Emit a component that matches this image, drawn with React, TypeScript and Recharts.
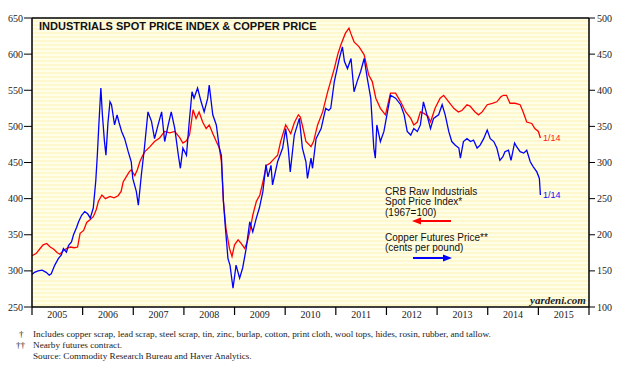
import React from 'react'
import {
  LineChart,
  Line,
  XAxis,
  YAxis,
  CartesianGrid,
  ReferenceLine,
} from 'recharts'

// CRB Raw Industrials spot price index (left axis), fractional years
const crbDates = [
  2005.0, 2005.08, 2005.16, 2005.22, 2005.29, 2005.36, 2005.43, 2005.5, 2005.55, 2005.62,
  2005.68, 2005.76, 2005.83, 2005.9, 2005.95, 2006.02, 2006.08, 2006.15, 2006.21, 2006.27,
  2006.31, 2006.38, 2006.45, 2006.54, 2006.62, 2006.7, 2006.76, 2006.8, 2006.86, 2006.92,
  2006.96, 2007.03, 2007.08, 2007.13, 2007.18, 2007.23, 2007.33, 2007.42, 2007.52, 2007.62,
  2007.72, 2007.82, 2007.92, 2007.98, 2008.05, 2008.11, 2008.14, 2008.18, 2008.24, 2008.3,
  2008.37, 2008.44, 2008.5, 2008.57, 2008.64, 2008.7, 2008.74, 2008.78, 2008.83, 2008.9,
  2008.95, 2009.0, 2009.07, 2009.13, 2009.2, 2009.25, 2009.3, 2009.36, 2009.43, 2009.5,
  2009.56, 2009.63, 2009.7, 2009.78, 2009.85, 2009.91, 2010.01, 2010.06, 2010.11, 2010.18,
  2010.26, 2010.3, 2010.36, 2010.41, 2010.51, 2010.56, 2010.64, 2010.74, 2010.84, 2010.97,
  2011.04, 2011.1, 2011.19, 2011.26, 2011.3, 2011.36, 2011.46, 2011.56, 2011.65, 2011.72,
  2011.79, 2011.88, 2011.98, 2012.08, 2012.18, 2012.28, 2012.38, 2012.48, 2012.54, 2012.61,
  2012.67, 2012.74, 2012.82, 2012.87, 2012.96, 2013.06, 2013.13, 2013.23, 2013.33, 2013.42,
  2013.49, 2013.59, 2013.65, 2013.75, 2013.82, 2013.89, 2013.99, 2014.09, 2014.18, 2014.26,
  2014.31, 2014.37, 2014.44, 2014.54, 2014.64, 2014.7, 2014.77, 2014.87, 2014.93, 2015.0,
  2015.04,
]
const crbValues = [
  321, 324, 331, 336, 338, 333, 330, 325, 323, 328,
  331, 333, 332, 333, 352, 356, 367, 371, 375, 385,
  396, 405, 400, 403, 401, 404, 410, 423, 430, 437,
  440, 432, 440, 451, 459, 465, 472, 479, 484, 493,
  491, 493, 484, 477, 480, 488, 502, 523, 511, 520,
  506, 497, 502, 490, 479, 470, 451, 396, 359, 331,
  320, 336, 343, 338, 331, 340, 354, 377, 396, 405,
  423, 446, 449, 455, 460, 479, 502, 496, 490, 505,
  516, 513, 495, 479, 472, 479, 502, 520, 548, 580,
  600, 613, 629, 636, 628, 617, 610, 599, 571, 562,
  539, 525, 516, 546, 546, 534, 520, 511, 502, 506,
  520, 518, 514, 506, 525, 539, 543, 534, 525, 520,
  522, 530, 528, 520, 516, 520, 530, 532, 534, 541,
  543, 543, 532, 532, 530, 520, 506, 504, 497, 493,
  484,
]

// Copper futures price, cents per pound (right axis)
const copperDates = [
  2005.0, 2005.05, 2005.12, 2005.2, 2005.28, 2005.34, 2005.38, 2005.45, 2005.52, 2005.58,
  2005.62, 2005.68, 2005.72, 2005.78, 2005.82, 2005.88, 2005.92, 2005.98, 2006.04, 2006.1,
  2006.15, 2006.21, 2006.26, 2006.29, 2006.32, 2006.36, 2006.39, 2006.43, 2006.46, 2006.5,
  2006.54, 2006.57, 2006.63, 2006.68, 2006.72, 2006.77, 2006.83, 2006.9, 2006.96, 2006.99,
  2007.06, 2007.1, 2007.16, 2007.22, 2007.29, 2007.36, 2007.42, 2007.49, 2007.56, 2007.62,
  2007.69, 2007.75, 2007.82, 2007.89, 2007.93, 2007.98, 2008.05, 2008.1, 2008.16, 2008.2,
  2008.27, 2008.34, 2008.4, 2008.47, 2008.5, 2008.57, 2008.64, 2008.7, 2008.74, 2008.78,
  2008.82, 2008.87, 2008.91, 2008.97, 2009.03, 2009.1, 2009.16, 2009.23, 2009.3, 2009.36,
  2009.43, 2009.49, 2009.56, 2009.62, 2009.66, 2009.72, 2009.75, 2009.85, 2009.95, 2010.01,
  2010.06, 2010.1, 2010.18, 2010.28, 2010.34, 2010.41, 2010.44, 2010.51, 2010.54, 2010.61,
  2010.71, 2010.8, 2010.86, 2010.9, 2010.97, 2011.07, 2011.13, 2011.17, 2011.23, 2011.3,
  2011.36, 2011.42, 2011.49, 2011.56, 2011.62, 2011.69, 2011.75, 2011.78, 2011.81, 2011.88,
  2011.95, 2012.02, 2012.08, 2012.18, 2012.28, 2012.35, 2012.41, 2012.48, 2012.54, 2012.61,
  2012.67, 2012.73, 2012.8, 2012.87, 2012.93, 2013.03, 2013.1, 2013.16, 2013.23, 2013.29,
  2013.36, 2013.43, 2013.46, 2013.52, 2013.59, 2013.66, 2013.72, 2013.79, 2013.85, 2013.92,
  2013.99, 2014.05, 2014.12, 2014.18, 2014.24, 2014.3, 2014.34, 2014.41, 2014.46, 2014.53,
  2014.57, 2014.64, 2014.71, 2014.77, 2014.84, 2014.9, 2014.97, 2015.02, 2015.04,
]
const copperValues = [
  145, 148, 150, 151, 148, 144, 146, 158, 167, 172,
  181, 176, 185, 190, 200, 210, 218, 227, 232, 229,
  223, 237, 275, 310, 352, 403, 366, 330, 310, 355,
  384, 380, 352, 366, 355, 343, 333, 315, 301, 278,
  260, 241, 283, 320, 370, 357, 333, 352, 370, 329,
  352, 370, 347, 310, 292, 320, 310, 352, 398, 389,
  403, 384, 370, 389, 407, 366, 352, 320, 310, 247,
  209, 167, 158, 126, 158, 140, 154, 181, 218, 204,
  223, 237, 260, 297, 280, 296, 269, 301, 320, 347,
  320, 287, 338, 361, 320, 301, 278, 306, 292, 333,
  347, 375, 372, 375, 412, 444, 460, 440, 430, 444,
  398, 412, 426, 444, 417, 389, 320, 306, 352, 329,
  343, 370, 393, 389, 380, 366, 343, 338, 347, 343,
  352, 384, 366, 347, 361, 366, 380, 366, 343, 329,
  324, 320, 306, 329, 333, 329, 331, 320, 324, 333,
  345, 333, 329, 320, 303, 308, 315, 317, 303, 327,
  322, 315, 313, 317, 301, 294, 287, 278, 255,
]

// year boundaries carry the tick marks; each label sits mid-year
const yearBounds = [2005, 2006, 2007, 2008, 2009, 2010, 2011, 2012, 2013, 2014, 2015, 2016]
const leftTicks = [250, 300, 350, 400, 450, 500, 550, 600, 650]
const rightTicks = [100, 150, 200, 250, 300, 350, 400, 450, 500]

const crbData = crbDates.map((t, i) => ({ t, crb: crbValues[i] }))
const copperData = copperDates.map((t, i) => ({ t, copper: copperValues[i] }))

const serifTick = { fontSize: 10, fill: '#222', fontFamily: 'Liberation Serif, serif' }
const sans = 'Liberation Sans, Arial, sans-serif'
const serif = 'Liberation Serif, Times New Roman, serif'

const abs = (left: number, top: number, extra: React.CSSProperties = {}): React.CSSProperties => ({
  position: 'absolute',
  left,
  top,
  whiteSpace: 'nowrap',
  ...extra,
})

const YearTick = (props: any) => {
  const { x, y, payload, width } = props
  if (payload.value >= yearBounds[yearBounds.length - 1]) return <g />
  const axisW = typeof width === 'number' && width > 0 ? width : 557
  const half = axisW / (yearBounds.length - 1) / 2
  return (
    <text
      x={x + half}
      y={y}
      dy="0.71em"
      textAnchor="middle"
      fontSize={10}
      fill="#222"
      fontFamily="Liberation Serif, serif"
    >
      {payload.value}
    </text>
  )
}

const App: React.FC = () => {
  return (
    <div style={{ position: 'absolute', left: 0, top: 0, width: 631, height: 365, background: '#fff' }}>
      <LineChart
        width={631}
        height={365}
        margin={{ top: 18, right: 0, left: 0, bottom: 38 }}
      >
        <defs>
          <pattern id="stripes" patternUnits="userSpaceOnUse" width="8" height="4">
            <rect x="0" y="0" width="8" height="4" fill="#FFFEE6" />
            <rect x="0" y="0" width="8" height="2" fill="#FFF8CF" />
          </pattern>
        </defs>
        <CartesianGrid
          xAxisId="years"
          yAxisId="left"
          horizontal={false}
          vertical={false}
          fill="url(#stripes)"
          fillOpacity={1}
        />
        <XAxis
          xAxisId="years"
          type="number"
          dataKey="t"
          domain={[2005, 2016]}
          ticks={yearBounds}
          interval={0}
          tick={YearTick}
          tickSize={8}
          tickMargin={-4}
          height={20}
          axisLine={{ stroke: '#000', strokeWidth: 1.5 }}
          tickLine={{ stroke: '#000', strokeWidth: 1.2 }}
        />
        <YAxis
          yAxisId="left"
          orientation="left"
          domain={[250, 650]}
          ticks={leftTicks}
          width={32}
          tick={serifTick}
          tickSize={8}
          tickMargin={1}
          axisLine={{ stroke: '#000', strokeWidth: 1.5 }}
          tickLine={{ stroke: '#000' }}
        />
        <YAxis
          yAxisId="right"
          orientation="right"
          domain={[100, 500]}
          ticks={rightTicks}
          width={42}
          tick={serifTick}
          tickSize={6}
          tickMargin={2}
          axisLine={{ stroke: '#000', strokeWidth: 1.5 }}
          tickLine={{ stroke: '#000' }}
        />
        <ReferenceLine xAxisId="years" yAxisId="left" y={650} stroke="#000" strokeWidth={1.5} />
        <Line
          data={crbData}
          xAxisId="years"
          yAxisId="left"
          type="linear"
          dataKey="crb"
          stroke="#FF0000"
          strokeWidth={1.3}
          dot={false}
          isAnimationActive={false}
        />
        <Line
          data={copperData}
          xAxisId="years"
          yAxisId="right"
          type="linear"
          dataKey="copper"
          stroke="#0000FF"
          strokeWidth={1.3}
          dot={false}
          isAnimationActive={false}
        />
      </LineChart>

      <div style={abs(39, 21, { fontFamily: sans, fontWeight: 'bold', fontSize: 11, lineHeight: '11px', color: '#111' })}>
        INDUSTRIALS SPOT PRICE INDEX &amp; COPPER PRICE
      </div>

      <div style={abs(385, 186.5, { fontFamily: sans, fontSize: 10, lineHeight: '10.5px', color: '#111' })}>
        CRB Raw Industrials
        <br />
        Spot Price Index*
        <br />
        (1967=100)
      </div>
      <div style={abs(385, 232.5, { fontFamily: sans, fontSize: 10, lineHeight: '10.5px', color: '#111' })}>
        Copper Futures Price**
        <br />
        (cents per pound)
      </div>

      <svg style={{ position: 'absolute', left: 0, top: 0 }} width={631} height={365}>
        <line x1={419} y1={221} x2={451} y2={221} stroke="#FF0000" strokeWidth={2} />
        <polygon points="412,221 421,217.5 421,224.5" fill="#FF0000" />
        <line x1={413} y1={258} x2={445} y2={258} stroke="#0000FF" strokeWidth={2} />
        <polygon points="452,258 443,254.5 443,261.5" fill="#0000FF" />
      </svg>

      <div style={abs(543, 133, { fontFamily: sans, fontSize: 9, lineHeight: '10px', color: '#FF2020' })}>1/14</div>
      <div style={abs(543, 190, { fontFamily: sans, fontSize: 9, lineHeight: '10px', color: '#1010FF' })}>1/14</div>

      <div style={abs(530, 294, { fontFamily: serif, fontSize: 11, lineHeight: '12px', fontStyle: 'italic', fontWeight: 'bold', color: '#222' })}>
        yardeni.com
      </div>

      <div style={abs(0, 329, { fontFamily: serif, fontSize: 9.2, lineHeight: '10.8px', color: '#222' })}>
        <div style={{ display: 'flex' }}>
          <span style={{ width: 33, paddingLeft: 19, boxSizing: 'border-box' }}>†</span>
          <span>Includes copper scrap, lead scrap, steel scrap, tin, zinc, burlap, cotton, print cloth, wool tops, hides, rosin, rubber, and tallow.</span>
        </div>
        <div style={{ display: 'flex' }}>
          <span style={{ width: 33, paddingLeft: 16, boxSizing: 'border-box' }}>††</span>
          <span>Nearby futures contract.</span>
        </div>
        <div style={{ display: 'flex' }}>
          <span style={{ width: 33 }} />
          <span>Source: Commodity Research Bureau and Haver Analytics.</span>
        </div>
      </div>
    </div>
  )
}

export default App
